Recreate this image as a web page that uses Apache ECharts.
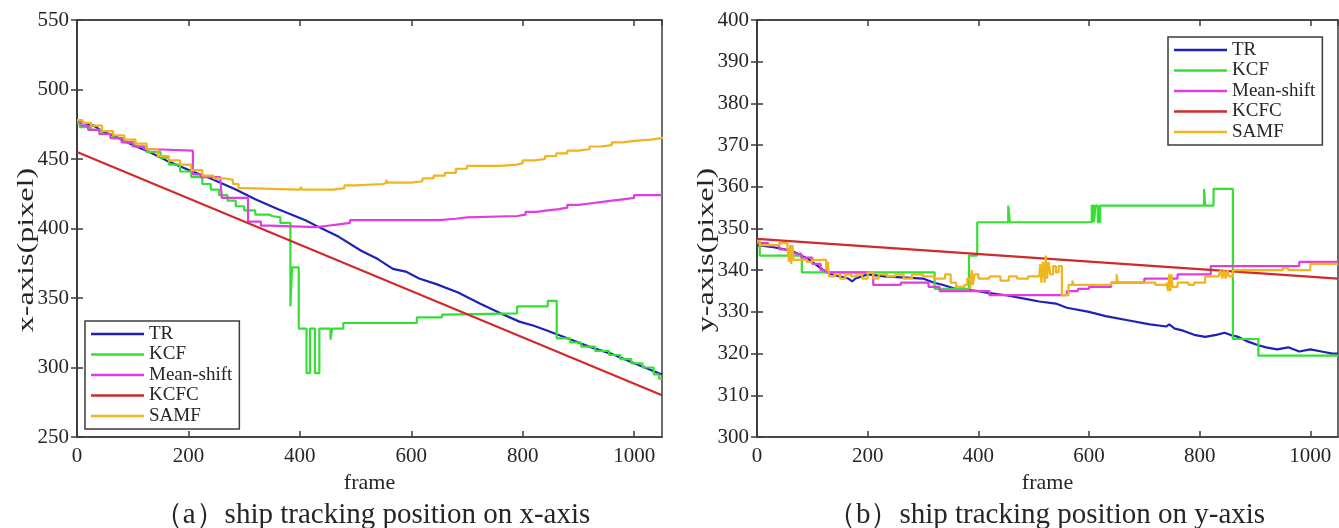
<!DOCTYPE html>
<html>
<head>
<meta charset="utf-8">
<script src="https://cdn.jsdelivr.net/npm/echarts@6/dist/echarts.min.js"></script>
<style>
  html, body { margin: 0; padding: 0; background: #fff; }
  #root { width: 1339px; height: 528px; }
</style>
</head>
<body>
<div id="root"></div>
<script>
// series names, legend order
const methods = ["TR", "KCF", "Mean-shift", "KCFC", "SAMF"];
const colors = ["#1f22b4", "#35e035", "#e03ce0", "#d02a2a", "#efb41e"];

// (a) position on x-axis, [frame, pixel]
const xTR = [[0,477],[12,476],[30,474],[45,470],[70,466],[100,460],[130,455],[160,449],[207,441],[240,436],[285,428],[320,421],[360,414],[410,406],[434,401],[470,394],[510,384],[540,378],[567,371],[590,369],[614,364],[645,360],[684,354],[723,346],[760,339],[794,333],[820,330],[841,327],[880,321],[919,315],[958,310],[1000,303],[1050,295]];
const xKCF = [[0,476],[5,473],[25,471],[45,468],[65,465],[85,462],[105,459],[125,455],[150,451],[165,446],[185,441],[205,437],[225,432],[240,428],[255,424],[270,420],[285,416],[300,413],[320,410],[345,409],[350,408],[365,404],[383,344],[386,372],[398,328],[412,296],[418,328],[427,296],[435,328],[455,320],[458,328],[478,332],[610,336],[655,338],[660,339],[790,344],[845,348],[861,321],[885,318],[905,315],[930,312],[955,309],[975,306],[995,303],[1015,300],[1035,295],[1045,292],[1050,292]];
const xMeanShift = [[0,477],[8,474],[20,471],[40,468],[60,465],[80,462],[100,459],[120,457],[137,456],[208,439],[222,437],[257,438],[260,422],[307,405],[330,402],[345,401],[430,402],[450,403],[470,404],[490,406],[600,406],[650,407],[680,408],[700,409],[790,410],[805,412],[825,413],[845,414],[865,415],[880,417],[900,418],[920,419],[940,420],[960,421],[980,422],[1000,424],[1050,424]];
const xKCFC = [[0,455],[1050,280]];
const xSAMF = [[0,478],[10,476],[25,474],[45,470],[65,467],[85,464],[105,461],[125,457],[145,452],[165,449],[185,446],[205,442],[225,438],[245,436],[265,435],[280,432],[290,429],[300,428],[400,428],[402,430],[404,428],[440,428],[460,429],[480,431],[500,432],[550,433],[555,435],[557,433],[600,434],[620,436],[640,438],[660,440],[680,443],[700,445],[760,446],[790,447],[800,449],[820,450],[840,452],[860,454],[880,456],[900,457],[920,459],[940,460],[960,462],[980,463],[1000,464],[1030,465],[1050,466]];

// (b) position on y-axis, [frame, pixel]
const yTR = [[0,346],[30,345.5],[50,345],[65,344.5],[80,343.5],[95,342.5],[110,341],[120,340],[135,339],[150,338.5],[165,338],[172,337.3],[178,338],[200,339],[230,338.5],[300,338],[320,337],[335,336.5],[360,335.5],[400,335],[420,334.5],[450,334],[490,333],[510,332.5],[540,332],[560,331],[600,330],[630,329],[670,328],[710,327],[740,326.5],[745,327],[755,326],[770,325.5],[790,324.5],[810,324],[830,324.5],[845,325],[855,324.5],[870,324],[885,323],[906,322],[920,321.5],[940,321],[960,321.5],[980,320.5],[1000,321],[1020,320.5],[1040,320],[1050,320]];
const yKCF = [[0,347],[5,343.5],[81,339.5],[321,335.5],[383,343.5],[398,351.5],[454,355.5],[457,351.5],[605,355.5],[609,351.5],[612,355.5],[616,351.5],[620,355.5],[808,359.5],[810,355.5],[825,359.5],[860,323.5],[906,319.5],[1050,319.5]];
const yMeanShift = [[0,346.5],[20,346],[40,345],[60,344],[80,343],[100,341.5],[115,340],[125,339.5],[210,336.5],[260,337],[310,336],[330,335],[420,334],[560,335],[580,335.5],[600,336],[640,337],[700,338],[760,339],[820,341],[980,342],[1050,342]];
const yKCFC = [[0,347.5],[1050,338]];
const ySAMF = [[0,347],[5,346],[40,346.5],[55,345],[58,342],[60,346],[62,341.5],[64,346],[66,342.5],[90,342],[100,342.5],[125,340],[128,342],[130,338.5],[140,339],[150,338],[160,339],[170,338.5],[180,339],[190,338],[200,339.5],[210,338],[220,339],[235,338.5],[250,339],[265,338],[280,339],[300,338.5],[320,338],[340,339],[350,337],[360,336],[375,336.5],[380,338],[385,335.5],[388,340],[390,336.5],[393,339],[400,338],[420,338.5],[440,337.5],[455,338.5],[470,338],[490,338.5],[510,338.5],[512,341.5],[514,337],[517,342],[520,337],[522,343.5],[524,338],[527,342],[530,339],[535,341],[540,339.5],[545,341],[551,334],[563,336.5],[570,337.5],[572,336.5],[640,337],[650,339],[652,337],[700,337],[720,336.5],[740,337],[743,335],[745,339],[747,335],[749,339],[751,336],[760,337],[780,336.5],[790,337],[810,338.5],[835,339],[838,340],[841,338],[844,340],[847,338],[850,340],[853,338.5],[860,340],[950,340.5],[960,340],[1000,341.5],[1050,341.5]];

const frameTicks = { min: 0, max: 1050, interval: 200 };
const xPixelTicks = { min: 250, max: 550, interval: 50 };
const yPixelTicks = { min: 300, max: 400, interval: 10 };

const captions = ["（a）ship tracking position on x-axis", "（b）ship tracking position on y-axis"];

const FONT = '"Liberation Serif", "Times New Roman", serif';
const TEXT = "#262626";
const AXIS = "#3c3c3c";

(function () {
  const chart = echarts.init(document.getElementById("root"), null, { renderer: "canvas" });

  const steps = { TR: false, KCF: "end", "Mean-shift": "end", KCFC: false, SAMF: "end" };

  function makeX(gridIndex, top) {
    return {
      type: "value",
      gridIndex,
      position: top ? "top" : "bottom",
      min: frameTicks.min,
      max: frameTicks.max,
      interval: frameTicks.interval,
      name: top ? "" : "frame",
      nameLocation: "middle",
      nameGap: 33,
      nameTextStyle: { fontFamily: FONT, fontSize: 22, color: TEXT },
      axisLine: { show: true, lineStyle: { color: AXIS, width: 1.5 } },
      axisTick: { show: true, inside: true, length: 6, lineStyle: { color: AXIS, width: 1.5 } },
      axisLabel: { show: !top, fontFamily: FONT, fontSize: 21, color: TEXT, margin: 9, showMaxLabel: false, formatter: (v) => String(v) },
      splitLine: { show: false },
    };
  }

  function makeY(gridIndex, right, ticks) {
    return {
      type: "value",
      gridIndex,
      position: right ? "right" : "left",
      min: ticks.min,
      max: ticks.max,
      interval: ticks.interval,
      axisLine: { show: true, lineStyle: { color: AXIS, width: 1.5 } },
      axisTick: { show: true, inside: true, length: 6, lineStyle: { color: AXIS, width: 1.5 } },
      axisLabel: { show: !right, fontFamily: FONT, fontSize: 21, color: TEXT, margin: 8 },
      splitLine: { show: false },
    };
  }

  function makeSeries(sets, xIdx, yIdx) {
    return methods.map((name, i) => ({
      name,
      type: "line",
      xAxisIndex: xIdx,
      yAxisIndex: yIdx,
      data: sets[i],
      step: steps[name],
      symbol: "none",
      smooth: false,
      color: colors[i],
      lineStyle: { width: 2.2, color: colors[i] },
      z: 2 + i,
    }));
  }

  function makeLegend(left, top) {
    return {
      data: methods,
      orient: "vertical",
      left,
      top,
      icon: "rect",
      selectedMode: false,
      backgroundColor: "#fff",
      borderColor: AXIS,
      borderWidth: 1.5,
      borderRadius: 0,
      padding: [3, 7, 3, 6],
      itemWidth: 53,
      itemHeight: 2.5,
      itemGap: 0.5,
      textStyle: { fontFamily: FONT, fontSize: 19, color: TEXT, lineHeight: 20 },
    };
  }

  const captionStyle = { fontFamily: FONT, fontSize: 29, fontWeight: "normal", color: TEXT };

  const option = {
    animation: false,
    backgroundColor: "#fff",
    grid: [
      { left: 77, top: 20, width: 585, height: 417, show: true, borderColor: AXIS, borderWidth: 1.5, backgroundColor: "transparent" },
      { left: 757, top: 20, width: 581, height: 417, show: true, borderColor: AXIS, borderWidth: 1.5, backgroundColor: "transparent" },
    ],
    xAxis: [makeX(0, false), makeX(0, true), makeX(1, false), makeX(1, true)],
    yAxis: [makeY(0, false, xPixelTicks), makeY(0, true, xPixelTicks), makeY(1, false, yPixelTicks), makeY(1, true, yPixelTicks)],
    legend: [makeLegend(85, 321), makeLegend(1168, 37)],
    title: [
      { text: captions[0], left: 367, top: 496, textAlign: "center", textStyle: captionStyle },
      { text: captions[1], left: 1041, top: 496, textAlign: "center", textStyle: captionStyle },
    ],
    graphic: [
      { type: "text", x: 27, y: 250, rotation: Math.PI / 2, scaleX: 1.4, style: { text: "x-axis(pixel)", fontFamily: FONT, fontSize: 23, fill: TEXT, align: "center", verticalAlign: "middle" } },
      { type: "text", x: 707, y: 250, rotation: Math.PI / 2, scaleX: 1.4, style: { text: "y-axis(pixel)", fontFamily: FONT, fontSize: 23, fill: TEXT, align: "center", verticalAlign: "middle" } },
    ],
    series: [
      ...makeSeries([xTR, xKCF, xMeanShift, xKCFC, xSAMF], 0, 0),
      ...makeSeries([yTR, yKCF, yMeanShift, yKCFC, ySAMF], 2, 2),
    ],
  };

  chart.setOption(option);
})();
</script>
</body>
</html>
